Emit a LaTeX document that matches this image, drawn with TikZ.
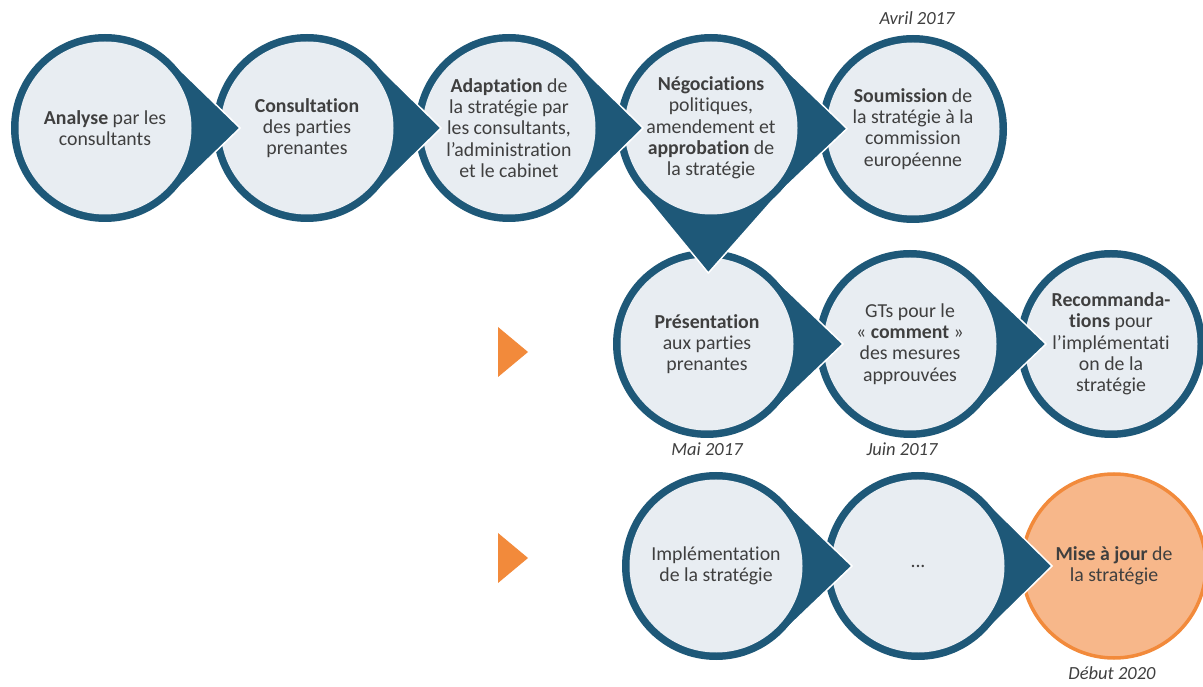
\documentclass[tikz,border=0pt]{standalone}
\usepackage{fontspec}
\setmainfont{Carlito}[Ligatures={TeX,NoCommon}]
\usetikzlibrary{calc,positioning,backgrounds}
\definecolor{bleuetape}{HTML}{1E5878}
\definecolor{fondetape}{HTML}{E8EDF2}
\definecolor{orangeetape}{HTML}{F28A3B}
\definecolor{orangeclair}{HTML}{F7B78A}
\definecolor{texteetape}{HTML}{3F3F3F}
\tikzset{
	etape/.style={circle, minimum size=188pt, inner sep=0pt, align=center,
		text=texteetape, font=\fontsize{19.8}{21.3}\selectfont},
	date/.style={text=texteetape, font=\fontsize{18.5}{20}\selectfont\itshape},
	fleche/.style={fill=orangeetape},
}
\def\rayon{94}
\def\interne{86.5}
\newcommand{\disque}[1]{%
	\fill[bleuetape] (#1.center) circle (\rayon);
	\fill[fondetape] (#1.center) circle (\interne);
}
\newcommand{\pointe}[3]{%
	\pgfmathsetmacro{\demi}{acos(\rayon/#3)}
	\fill[bleuetape] ($(#1.center)!\rayon pt!\demi:(#2.center)$) -- ($(#1.center)!#3pt!(#2.center)$)
		-- ($(#1.center)!\rayon pt!-\demi:(#2.center)$) -- (#1.center) -- cycle;
	\draw[white, line width=1.5pt, line join=miter] ($(#1.center)!\rayon pt!\demi:(#2.center)$)
		-- ($(#1.center)!#3pt!(#2.center)$) -- ($(#1.center)!\rayon pt!-\demi:(#2.center)$);
}

\begin{document}
\begin{tikzpicture}[x=1pt, y=1pt]
	\useasboundingbox (0,0) rectangle (1203,686);
	\node[etape] (analyse) at (105,558) {\textbf{Analyse} par les\\consultants};
	\node[etape] (consultation) at (307,558) {\textbf{Consultation}\\des parties\\prenantes};
	\node[etape] (adaptation) at (509,558) {\textbf{Adaptation} de\\la stratégie par\\les consultants,\\l’administration\\et le cabinet};
	\node[etape] (negociations) at (711,558) {\textbf{Négociations}\\politiques,\\amendement et\\\textbf{approbation} de\\la stratégie};
	\node[etape] (soumission) at (913,557) {\textbf{Soumission} de\\la stratégie à la\\commission\\européenne};
	\node[etape] (presentation) at (707,342) {\textbf{Présentation}\\aux parties\\prenantes};
	\node[etape] (gt) at (910,342) {GTs pour le\\«~\textbf{comment}~»\\des mesures\\approuvées};
	\node[etape] (recommandations) at (1111,342) {\textbf{Recommanda-}\\\textbf{tions} pour\\l’implémentati\\on de la\\stratégie};
	\node[etape] (implementation) at (716,120) {Implémentation\\de la stratégie};
	\node[etape] (suite) at (918,120) {...};
	\node[etape] (miseajour) at (1114,120) {\textbf{Mise à jour} de\\la stratégie};

	\node[date] (avril) at (917,668) {Avril 2017};
	\node[date] (mai) at (707,237) {Mai 2017};
	\node[date] (juin) at (902,237) {Juin 2017};
	\node[date] (debut) at (1112,13) {Début 2020};

	\fill[fleche] (498,359) -- (528,334) -- (498,309) -- cycle;
	\fill[fleche] (498,153) -- (528,128) -- (498,103) -- cycle;

	\begin{scope}[on background layer]
		\fill[orangeclair, draw=orangeetape, line width=3.5pt] (miseajour.center) circle (92);
		\pointe{suite}{miseajour}{134}
		\disque{suite}
		\pointe{implementation}{suite}{136}
		\disque{implementation}
		\disque{recommandations}
		\pointe{gt}{recommandations}{136}
		\disque{gt}
		\pointe{presentation}{gt}{136}
		\disque{presentation}
		\disque{soumission}
		\pointe{negociations}{soumission}{136}
		\pointe{negociations}{presentation}{145}
		\disque{negociations}
		\pointe{adaptation}{negociations}{134}
		\disque{adaptation}
		\pointe{consultation}{adaptation}{134}
		\disque{consultation}
		\pointe{analyse}{consultation}{135}
		\disque{analyse}
	\end{scope}
\end{tikzpicture}
\end{document}
